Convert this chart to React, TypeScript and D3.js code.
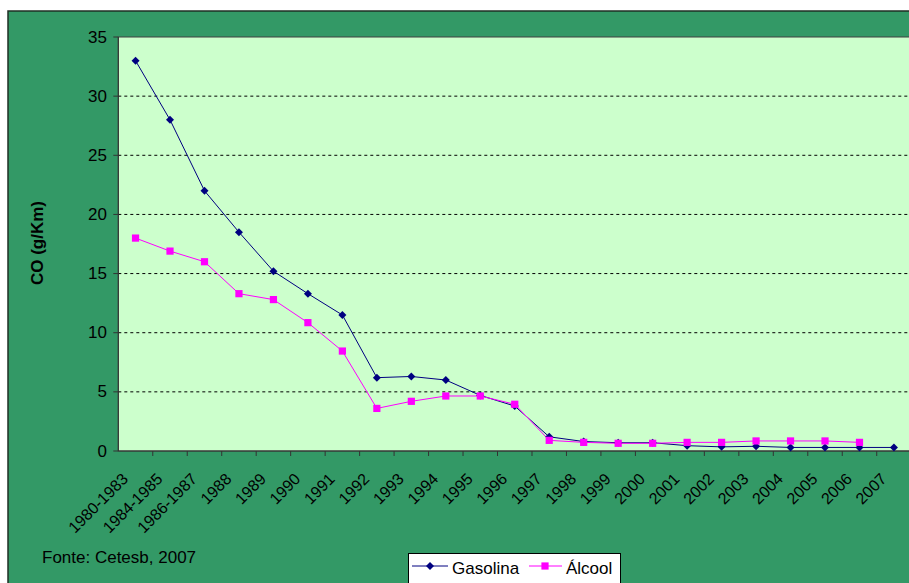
import React from "react";
import * as d3 from "d3";

const categories = [
  "1980-1983", "1984-1985", "1986-1987", "1988", "1989", "1990", "1991", "1992",
  "1993", "1994", "1995", "1996", "1997", "1998", "1999", "2000", "2001", "2002",
  "2003", "2004", "2005", "2006", "2007",
];
const gasolina: (number | null)[] = [
  33, 28, 22, 18.5, 15.2, 13.3, 11.5, 6.2, 6.3, 6.0, 4.7, 3.8, 1.2, 0.8, 0.7, 0.7,
  0.45, 0.35, 0.4, 0.3, 0.3, 0.3, 0.3,
];
const alcool: (number | null)[] = [
  18, 16.9, 16.0, 13.3, 12.8, 10.85, 8.45, 3.6, 4.2, 4.65, 4.65, 3.95, 0.9, 0.73, 0.65,
  0.65, 0.73, 0.73, 0.85, 0.85, 0.85, 0.73, null,
];
const yTicks = [0, 5, 10, 15, 20, 25, 30, 35];
const seriesNames = ["Gasolina", "Álcool"];
const yLabel = "CO (g/Km)";
const sourceNote = "Fonte: Cetesb, 2007";

const W = 909;
const H = 583;
const FONT = "Arial, 'Liberation Sans', sans-serif";

export default function App() {
  const plotL = 118.3;
  const plotR = 911.2;
  const plotT = 37;
  const plotB = 451;

  const x = d3.scaleBand<string>().domain(categories).range([plotL, plotR]).padding(0);
  const y = d3.scaleLinear().domain([0, 35]).range([plotB, plotT]);
  const cx = (c: string) => (x(c) as number) + x.bandwidth() / 2;

  const line = d3
    .line<number | null>()
    .defined((d) => d != null)
    .x((_, i) => cx(categories[i]))
    .y((d) => y(d as number));

  const diamond = (px: number, py: number, r = 4) =>
    `M${px},${py - r}L${px + r},${py}L${px},${py + r}L${px - r},${py}Z`;
  const sq = 3.6;

  const boundaries = categories.map((c) => x(c) as number).slice(1);

  return (
    <svg
      width={W}
      height={H}
      style={{ position: "absolute", left: 0, top: 0, display: "block", background: "#fff" }}
      fontFamily={FONT}
    >
      <rect x={8} y={11} width={W + 10} height={H + 10} fill="#339966" stroke="#1f2f24" strokeWidth={1.5} />
      <rect x={plotL} y={plotT} width={plotR - plotL} height={plotB - plotT} fill="#CCFFCC" stroke="#404040" strokeWidth={1} />
      {/* gridlines */}
      {yTicks
        .filter((t) => t > 0 && t < 35)
        .map((t) => (
          <line key={t} x1={plotL} x2={plotR} y1={y(t)} y2={y(t)} stroke="#000" strokeWidth={1} strokeDasharray="3,3" />
        ))}
      {/* axes */}
      <line x1={plotL} x2={plotL} y1={plotT} y2={plotB} stroke="#333" strokeWidth={1} />
      <line x1={plotL} x2={plotR} y1={plotB} y2={plotB} stroke="#333" strokeWidth={1} />
      {yTicks.map((t) => (
        <g key={t}>
          <line x1={plotL - 5} x2={plotL} y1={y(t)} y2={y(t)} stroke="#333" />
          <text x={107} y={y(t)} textAnchor="end" dominantBaseline="central" fontSize={17} fill="#000">
            {t}
          </text>
        </g>
      ))}
      {boundaries.map((b, i) => (
        <line key={i} x1={b} x2={b} y1={plotB} y2={plotB + 5} stroke="#333" />
      ))}
      {categories.map((c) => (
        <text
          key={c}
          transform={`translate(${cx(c) - 6.5},${480}) rotate(-45)`}
          textAnchor="end"
          fontSize={16}
          fill="#000"
        >
          {c}
        </text>
      ))}
      {/* series */}
      <path d={line(gasolina) || ""} fill="none" stroke="#000080" strokeWidth={1} />
      <path d={line(alcool) || ""} fill="none" stroke="#FF00FF" strokeWidth={1} />
      {gasolina.map((v, i) =>
        v == null ? null : <path key={i} d={diamond(cx(categories[i]), y(v))} fill="#000080" />
      )}
      {alcool.map((v, i) =>
        v == null ? null : (
          <rect key={i} x={cx(categories[i]) - sq} y={y(v) - sq} width={sq * 2} height={sq * 2} fill="#FF00FF" />
        )
      )}
      {/* y label */}
      <text
        transform={`translate(37,243) rotate(-90)`}
        textAnchor="middle"
        dominantBaseline="central"
        fontSize={17}
        fontWeight="bold"
        fill="#000"
      >
        {yLabel}
      </text>
      <text x={42} y={562.5} fontSize={17} fill="#000">
        {sourceNote}
      </text>
      {/* legend */}
      <rect x={408.5} y={553.5} width={212} height={45} fill="#fff" stroke="#000" strokeWidth={1} />
      <line x1={412} x2={448} y1={566} y2={566} stroke="#000080" />
      <path d={diamond(430, 566)} fill="#000080" />
      <text x={452} y={573.5} fontSize={17} fill="#000">
        {seriesNames[0]}
      </text>
      <line x1={529} x2={562} y1={566} y2={566} stroke="#FF00FF" />
      <rect x={545 - sq} y={566 - sq} width={sq * 2} height={sq * 2} fill="#FF00FF" />
      <text x={566} y={573.5} fontSize={17} fill="#000">
        {seriesNames[1]}
      </text>
    </svg>
  );
}
